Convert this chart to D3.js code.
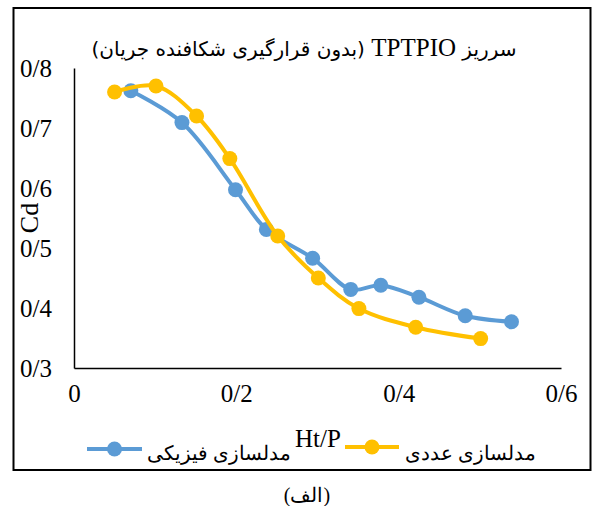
<!DOCTYPE html>
<html>
<head>
<meta charset="utf-8">
<script src="https://cdn.jsdelivr.net/npm/d3@7/dist/d3.min.js"></script>
<style>
  html, body { margin: 0; padding: 0; background: #fff; }
  svg { display: block; }
  text { font-family: "Liberation Serif", "DejaVu Serif", serif; fill: #000; }
</style>
</head>
<body>
<svg id="chart" width="594" height="506"></svg>
<script>
// ---- data ----
const physicalX = [0.070, 0.133, 0.199, 0.237, 0.294, 0.341, 0.378, 0.425, 0.482, 0.539];
const physicalY = [0.762, 0.709, 0.597, 0.531, 0.483, 0.431, 0.438, 0.418, 0.387, 0.377];
const numericX  = [0.050, 0.101, 0.151, 0.192, 0.251, 0.301, 0.351, 0.421, 0.501];
const numericY  = [0.760, 0.770, 0.720, 0.649, 0.520, 0.450, 0.399, 0.368, 0.349];
const xTicks = [0, 0.2, 0.4, 0.6];
const xTickLabels = ["0", "0/2", "0/4", "0/6"];
const yTicks = [0.3, 0.4, 0.5, 0.6, 0.7, 0.8];
const yTickLabels = ["0/3", "0/4", "0/5", "0/6", "0/7", "0/8"];
const seriesNames = ["مدلسازی فیزیکی", "مدلسازی عددی"];
const seriesColors = ["#5B9BD5", "#FFC000"];
const titleParts = ["سرریز ", "TPTPIO", " (بدون قرارگیری شکافنده جریان)"];
const xTitle = "Ht/P";
const yTitle = "Cd";
const caption = "(الف)";

const svg = d3.select("#chart");

// outer frame
svg.append("rect")
  .attr("x", 13.5).attr("y", 8).attr("width", 577).attr("height", 462)
  .attr("fill", "none").attr("stroke", "#000").attr("stroke-width", 2);

const x = d3.scaleLinear().domain([0, 0.6]).range([74, 561]);
const y = d3.scaleLinear().domain([0.3, 0.8]).range([368, 68]);

// axes
const xAxis = d3.axisBottom(x).tickValues(xTicks).tickSize(0).tickPadding(16)
  .tickFormat((d, i) => xTickLabels[i]);
const yAxis = d3.axisLeft(y).tickValues(yTicks).tickSize(0).tickPadding(22)
  .tickFormat((d, i) => yTickLabels[i]);

const gx = svg.append("g").attr("transform", `translate(0,${y(0.3)})`).call(xAxis);
const gy = svg.append("g").attr("transform", `translate(${x(0)},0)`).call(yAxis);
[gx, gy].forEach(g => {
  g.select(".domain").attr("stroke", "#000").attr("stroke-width", 1.5);
  g.selectAll("text").attr("font-size", 25).attr("font-family", "Liberation Serif").attr("fill", "#000");
});

// title (mixed RTL / Latin)
const title = svg.append("text")
  .attr("x", 304).attr("y", 56)
  .attr("text-anchor", "middle").attr("direction", "rtl");
titleParts.forEach((p, i) => {
  title.append("tspan")
    .attr("font-size", i === 1 ? 25 : 20)
    .attr("font-family", i === 1 ? "Liberation Serif" : "DejaVu Sans")
    .text(p);
});

svg.append("text")
  .attr("transform", "translate(38,218) rotate(-90)")
  .attr("text-anchor", "middle").attr("font-size", 26)
  .text(yTitle);

svg.append("text")
  .attr("x", 318).attr("y", 447)
  .attr("text-anchor", "middle").attr("font-size", 25)
  .text(xTitle);

svg.append("text")
  .attr("x", 307).attr("y", 502)
  .attr("text-anchor", "middle").attr("direction", "rtl")
  .attr("font-size", 20)
  .text(caption);

// series
const series = [
  { xs: physicalX, ys: physicalY, color: seriesColors[0] },
  { xs: numericX, ys: numericY, color: seriesColors[1] }
];
const line = d3.line().x(d => x(d[0])).y(d => y(d[1])).curve(d3.curveCatmullRom.alpha(0.5));

series.forEach(s => {
  const pts = s.xs.map((v, i) => [v, s.ys[i]]);
  svg.append("path").datum(pts)
    .attr("d", line).attr("fill", "none")
    .attr("stroke", s.color).attr("stroke-width", 4).attr("stroke-linejoin", "round");
  svg.append("g").selectAll("circle").data(pts).join("circle")
    .attr("cx", d => x(d[0])).attr("cy", d => y(d[1])).attr("r", 7.5)
    .attr("fill", s.color);
});

// legend
const legendItems = [
  { x1: 87, x2: 142, yy: 449, tx: 147, ty: 460 },
  { x1: 345, x2: 399, yy: 447, tx: 405, ty: 460 }
];
legendItems.forEach((L, i) => {
  const g = svg.append("g");
  g.append("line").attr("x1", L.x1).attr("x2", L.x2).attr("y1", L.yy).attr("y2", L.yy)
    .attr("stroke", seriesColors[i]).attr("stroke-width", 4);
  g.append("circle").attr("cx", (L.x1 + L.x2) / 2).attr("cy", L.yy).attr("r", 7.5)
    .attr("fill", seriesColors[i]);
  g.append("text").attr("x", L.tx).attr("y", L.ty)
    .attr("text-anchor", "start").attr("font-size", 20)
    .attr("font-family", "DejaVu Sans")
    .text(seriesNames[i]);
});
</script>
</body>
</html>
